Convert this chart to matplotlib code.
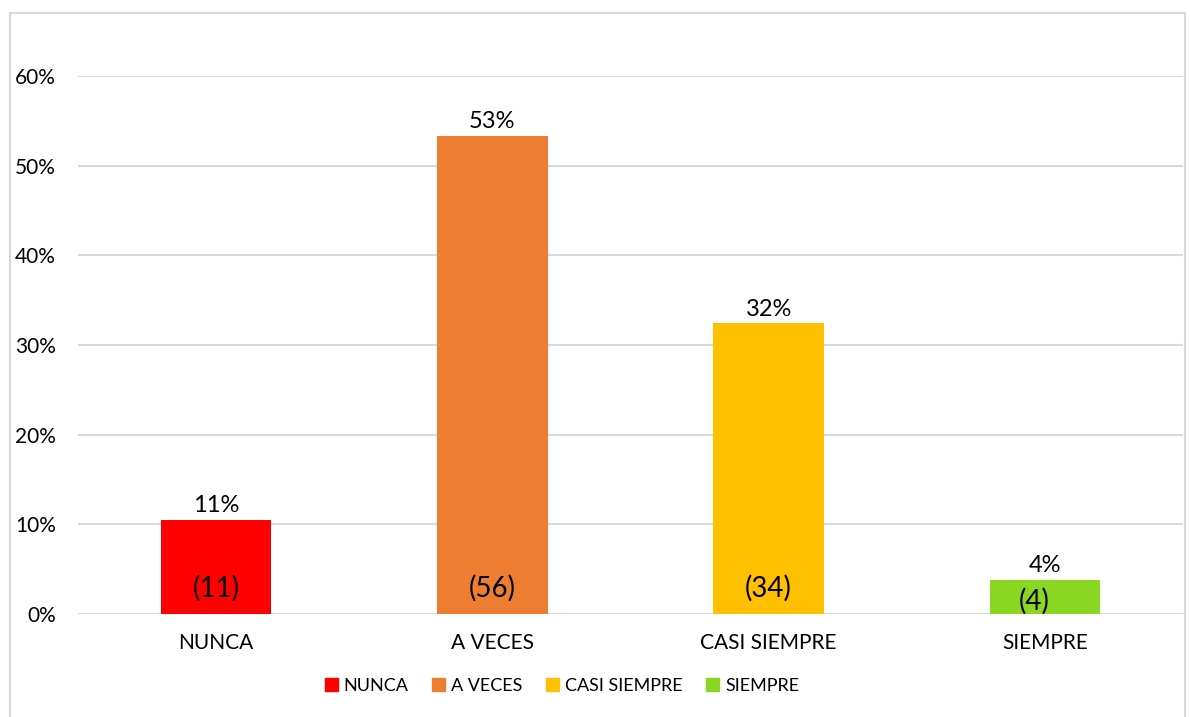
import matplotlib
matplotlib.use("Agg")
import matplotlib.pyplot as plt
from matplotlib.patches import Rectangle, Patch

categories = ["NUNCA", "A VECES", "CASI SIEMPRE", "SIEMPRE"]
counts = [11, 56, 34, 4]
percents = [10.5, 53.3, 32.4, 3.8]
colors = ["#FF0000", "#ED7D31", "#FFC000", "#8AD723"]

plt.rcParams['font.family'] = ['Lato', 'DejaVu Sans']

fig = plt.figure(figsize=(11.9, 7.17), dpi=100)
ax = fig.add_axes([78/1190, 1 - 614/717, (1183 - 78)/1190, (614 - 76)/717])

x = list(range(len(categories)))
ax.bar(x, percents, width=0.4, color=colors, zorder=3)

for i, (p, c) in enumerate(zip(percents, counts)):
    ax.text(i, p + 0.4, f"{int(p + 0.5)}%", ha='center', va='bottom', fontsize=17)
    if p > 5:
        ax.text(i, 2.9, f"({c})", ha='center', va='center', fontsize=20)
    else:
        # short bar: count sits lower, nudged left
        ax.text(i - 0.04, 1.4, f"({c})", ha='center', va='center', fontsize=20)

ax.set_xlim(-0.5, 3.5)
ax.set_ylim(0, 60)
ax.set_yticks(range(0, 70, 10))
ax.set_yticklabels([f"{v}%" for v in range(0, 70, 10)], fontsize=15)
ax.set_xticks(x)
ax.set_xticklabels(categories, fontsize=15)
ax.tick_params(axis='x', length=0, pad=14)
ax.tick_params(axis='y', length=0, pad=16)
ax.yaxis.grid(True, color="#D9D9D9", linewidth=1.5, zorder=0)
for sp in ax.spines.values():
    sp.set_visible(False)

handles = [Patch(color=c, label=l) for c, l in zip(colors, categories)]
fig.legend(handles=handles, loc='center', bbox_to_anchor=(562/1190, 1 - 686/717),
           ncol=4, frameon=False, fontsize=13, handlelength=0.7, handleheight=0.7,
           handletextpad=0.35, columnspacing=1.3)

# chart frame
fig.patches.append(Rectangle((10/1190, -0.05), (1185 - 10)/1190, 1.05 - 13/717,
                             transform=fig.transFigure, fill=False,
                             edgecolor="#D9D9D9", linewidth=1.5))

fig.savefig("out.png", dpi=100)
